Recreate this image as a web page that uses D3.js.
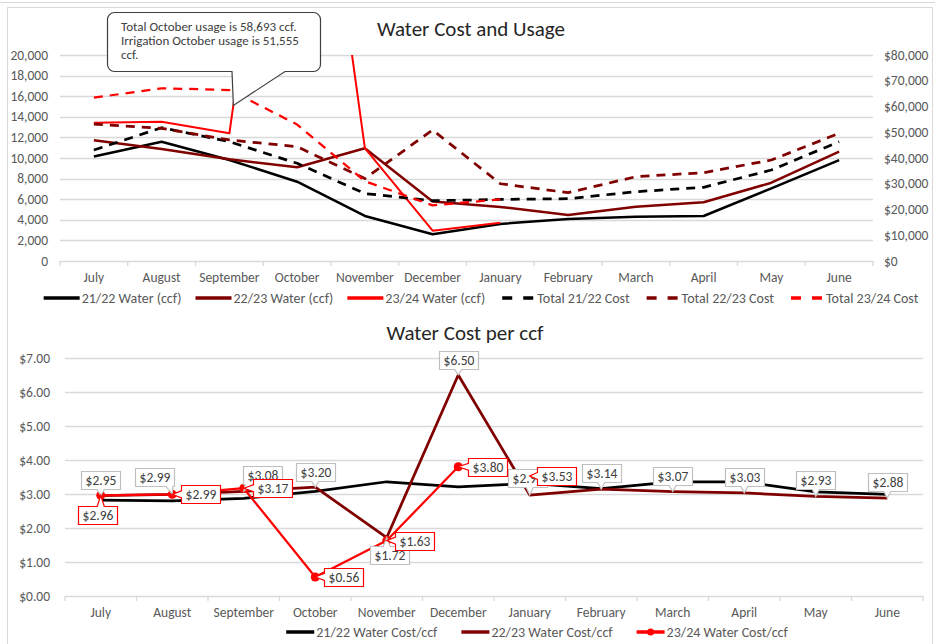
<!DOCTYPE html>
<html>
<head>
<meta charset="utf-8">
<script src="https://cdn.jsdelivr.net/npm/d3@7"></script>
<style>
  body { margin: 0; background: #fff; }
  svg { font-family: Calibri, Carlito, Lato, sans-serif; }
</style>
</head>
<body>
<div id="container"></div>
<script>
/* DATA */
const months = ["July", "August", "September", "October", "November", "December",
  "January", "February", "March", "April", "May", "June"];

// usage in ccf (left axis)
const water2122 = [10150, 11580, 9800, 7700, 4370, 2590, 3600, 4080, 4300, 4370, 7060, 9800];
const water2223 = [11720, 10870, 9870, 9100, 10940, 5780, 5250, 4470, 5270, 5700, 7600, 10610];
const water2324 = [13430, 13530, 12400, 58693, 10950, 2940, 3720];

// total cost in $ (right axis)
const cost2122 = [43100, 51770, 46330, 37940, 26200, 23400, 23900, 24200, 26900, 28620, 35340, 46330];
const cost2223 = [53200, 51530, 47000, 44400, 32000, 50870, 30000, 26540, 32740, 34300, 39220, 49590];
const cost2324 = [63420, 67070, 66400, 53000, 31000, 21600, 23950];

// cost per ccf
const cpc2122 = [2.82, 2.80, 2.87, 3.08, 3.36, 3.21, 3.31, 3.16, 3.36, 3.36, 3.06, 2.99];
const cpc2223 = [2.95, 2.99, 3.08, 3.20, 1.72, 6.50, 2.97, 3.14, 3.07, 3.03, 2.93, 2.88];
const cpc2324 = [2.96, 2.99, 3.17, 0.56, 1.63, 3.80, 3.53];

const leftTicks = d3.range(0, 20001, 2000);
const rightTicks = d3.range(0, 80001, 10000);
const cpcTicks = d3.range(0, 7.01, 1);

const calloutLines = ["Total October usage is 58,693 ccf.",
  "Irrigation October usage is 51,555", "ccf."];

/* CONSTANTS AND GLOBALS */
const width = 935;
const height = 644;
const gridColor = "#d9d9d9";
const textColor = "#595959";
const darkRed = "#800000";
const red = "#ff0000";
const axisFont = "13.5px";

// data label offsets (box centre relative to point)
const labelOff2223 = [[0,-16],[-18,-17],[19,-16],[0,-15],[3,17],[0,-15],[-2,-17],[0,-16],[0,-16],[0,-16],[0,-16],[0,-16]];
const labelOff2324 = [[-3,20],[28,0],[29,0],[28,0],[28,0],[29,0],[27,0]];

const svg = d3.select("#container")
  .append("svg")
  .attr("width", width)
  .attr("height", height);

// frames
svg.append("line")
  .attr("x1", 0).attr("x2", width).attr("y1", 2.5).attr("y2", 2.5)
  .attr("stroke", gridColor);
svg.append("rect")
  .attr("x", 7.5).attr("y", 7.5)
  .attr("width", 925).attr("height", 660)
  .attr("fill", "none")
  .attr("stroke", gridColor);

/* TOP CHART */
const topBox = {left: 60, right: 873, top: 55, bottom: 261};

const xTop = d3.scaleBand()
  .domain(months)
  .range([topBox.left, topBox.right]);
const xcTop = m => xTop(m) + xTop.bandwidth() / 2;

const yLeft = d3.scaleLinear()
  .domain([0, 20000])
  .range([topBox.bottom, topBox.top]);

const yRight = d3.scaleLinear()
  .domain([0, 80000])
  .range([topBox.bottom, topBox.top]);

// gridlines
svg.append("g")
  .selectAll("line")
  .data(leftTicks)
  .join("line")
  .attr("x1", topBox.left).attr("x2", topBox.right)
  .attr("y1", d => Math.round(yLeft(d)) + 0.5)
  .attr("y2", d => Math.round(yLeft(d)) + 0.5)
  .attr("stroke", gridColor)
  .attr("stroke-width", 1.3);

// x ticks at band edges
svg.append("g")
  .selectAll("line")
  .data(d3.range(months.length + 1))
  .join("line")
  .attr("x1", i => topBox.left + i * xTop.step())
  .attr("x2", i => topBox.left + i * xTop.step())
  .attr("y1", topBox.bottom).attr("y2", topBox.bottom + 5)
  .attr("stroke", gridColor)
  .attr("stroke-width", 1.3);

svg.append("g")
  .selectAll("text")
  .data(months)
  .join("text")
  .attr("x", d => xcTop(d))
  .attr("y", 281.5)
  .attr("text-anchor", "middle")
  .attr("fill", textColor)
  .style("font-size", axisFont)
  .text(d => d);

svg.append("g")
  .selectAll("text")
  .data(leftTicks)
  .join("text")
  .attr("x", 48)
  .attr("y", d => yLeft(d) + 4.5)
  .attr("text-anchor", "end")
  .attr("fill", textColor)
  .style("font-size", axisFont)
  .text(d => d3.format(",")(d));

svg.append("g")
  .selectAll("text")
  .data(rightTicks)
  .join("text")
  .attr("x", 884)
  .attr("y", d => yRight(d) + 4.5)
  .attr("fill", textColor)
  .style("font-size", axisFont)
  .text(d => "$" + d3.format(",")(d));

svg.append("text")
  .attr("x", 471)
  .attr("y", 36)
  .attr("text-anchor", "middle")
  .attr("fill", "#262626")
  .style("font-size", "21px")
  .text("Water Cost and Usage");

svg.append("clipPath")
  .attr("id", "topClip")
  .append("rect")
  .attr("x", topBox.left - 5).attr("y", topBox.top)
  .attr("width", topBox.right - topBox.left + 10)
  .attr("height", topBox.bottom - topBox.top + 5);

const plotTop = svg.append("g").attr("clip-path", "url(#topClip)");

const topSeries = [
  {name: "21/22 Water (ccf)", values: water2122, y: yLeft, color: "#000", dash: null, w: 2.5},
  {name: "22/23 Water (ccf)", values: water2223, y: yLeft, color: darkRed, dash: null, w: 2.5},
  {name: "23/24 Water (ccf)", values: water2324, y: yLeft, color: red, dash: null, w: 2},
  {name: "Total 21/22 Cost", values: cost2122, y: yRight, color: "#000", dash: "9,7", w: 2.75},
  {name: "Total 22/23 Cost", values: cost2223, y: yRight, color: darkRed, dash: "9,7", w: 2.75},
  {name: "Total 23/24 Cost", values: cost2324, y: yRight, color: red, dash: "9,7", w: 2.25}
];

topSeries.forEach(s => {
  const lineGen = d3.line()
    .x((d, i) => xcTop(months[i]))
    .y(d => s.y(d));
  plotTop.append("path")
    .datum(s.values)
    .attr("fill", "none")
    .attr("stroke", s.color)
    .attr("stroke-width", s.w)
    .attr("stroke-dasharray", s.dash)
    .attr("stroke-linejoin", "round")
    .attr("d", lineGen);
});

// callout box
const tipX = xcTop("September") + 4;
const tipY = yLeft(15100);
const cb = {x: 107.5, y: 12.5, w: 213, h: 59, r: 7};
const cpath = d3.path();
cpath.moveTo(cb.x + cb.r, cb.y);
cpath.lineTo(cb.x + cb.w - cb.r, cb.y);
cpath.arcTo(cb.x + cb.w, cb.y, cb.x + cb.w, cb.y + cb.r, cb.r);
cpath.lineTo(cb.x + cb.w, cb.y + cb.h - cb.r);
cpath.arcTo(cb.x + cb.w, cb.y + cb.h, cb.x + cb.w - cb.r, cb.y + cb.h, cb.r);
cpath.lineTo(285, cb.y + cb.h);
cpath.lineTo(tipX, tipY);
cpath.lineTo(232, cb.y + cb.h);
cpath.lineTo(cb.x + cb.r, cb.y + cb.h);
cpath.arcTo(cb.x, cb.y + cb.h, cb.x, cb.y + cb.h - cb.r, cb.r);
cpath.lineTo(cb.x, cb.y + cb.r);
cpath.arcTo(cb.x, cb.y, cb.x + cb.r, cb.y, cb.r);
cpath.closePath();
svg.append("path")
  .attr("d", cpath.toString())
  .attr("fill", "#fff")
  .attr("stroke", "#404040")
  .attr("stroke-width", 1.2);

svg.append("g")
  .selectAll("text")
  .data(calloutLines)
  .join("text")
  .attr("x", 121)
  .attr("y", (d, i) => 30.5 + i * 14.3)
  .attr("fill", "#404040")
  .style("font-size", "13px")
  .text(d => d);

// legend
function drawLegend(items, cy, centre, sampleW, gap) {
  const g = svg.append("g");
  let x = 0;
  items.forEach(s => {
    g.append("line")
      .attr("x1", x).attr("x2", x + sampleW)
      .attr("y1", cy).attr("y2", cy)
      .attr("stroke", s.color)
      .attr("stroke-width", 3.5)
      .attr("stroke-dasharray", s.dash ? "10,11" : null)
      .attr("stroke-dashoffset", s.dash ? -3 : null);
    if (s.marker) {
      g.append("circle")
        .attr("cx", x + sampleW / 2).attr("cy", cy).attr("r", 3.5)
        .attr("fill", s.color);
    }
    const t = g.append("text")
      .attr("x", x + sampleW + 2)
      .attr("y", cy + 4.5)
      .attr("fill", textColor)
      .style("font-size", "14px")
      .text(s.name);
    x += sampleW + 2 + t.node().getComputedTextLength() + gap;
  });
  x -= gap;
  g.attr("transform", `translate(${centre - x / 2},0)`);
}

drawLegend(topSeries, 298, 481, 36, 14);

/* BOTTOM CHART */
const botBox = {left: 65, right: 923, top: 358, bottom: 596};

const xBot = d3.scaleBand()
  .domain(months)
  .range([botBox.left, botBox.right]);
const xcBot = m => xBot(m) + xBot.bandwidth() / 2;

const yBot = d3.scaleLinear()
  .domain([0, 7])
  .range([botBox.bottom, botBox.top]);

svg.append("g")
  .selectAll("line")
  .data(cpcTicks)
  .join("line")
  .attr("x1", botBox.left).attr("x2", botBox.right)
  .attr("y1", d => Math.round(yBot(d)) + 0.5)
  .attr("y2", d => Math.round(yBot(d)) + 0.5)
  .attr("stroke", gridColor)
  .attr("stroke-width", 1.3);

svg.append("g")
  .selectAll("line")
  .data(d3.range(months.length + 1))
  .join("line")
  .attr("x1", i => botBox.left + i * xBot.step())
  .attr("x2", i => botBox.left + i * xBot.step())
  .attr("y1", botBox.bottom).attr("y2", botBox.bottom + 5)
  .attr("stroke", gridColor)
  .attr("stroke-width", 1.3);

svg.append("g")
  .selectAll("text")
  .data(months)
  .join("text")
  .attr("x", d => xcBot(d))
  .attr("y", 616.5)
  .attr("text-anchor", "middle")
  .attr("fill", textColor)
  .style("font-size", axisFont)
  .text(d => d);

svg.append("g")
  .selectAll("text")
  .data(cpcTicks)
  .join("text")
  .attr("x", 50)
  .attr("y", d => yBot(d) + 4.5)
  .attr("text-anchor", "end")
  .attr("fill", textColor)
  .style("font-size", axisFont)
  .text(d => "$" + d3.format(".2f")(d));

svg.append("text")
  .attr("x", 465)
  .attr("y", 340)
  .attr("text-anchor", "middle")
  .attr("fill", "#262626")
  .style("font-size", "21px")
  .text("Water Cost per ccf");

const botSeries = [
  {name: "21/22 Water Cost/ccf", values: cpc2122, color: "#000"},
  {name: "22/23 Water Cost/ccf", values: cpc2223, color: darkRed},
  {name: "23/24 Water Cost/ccf", values: cpc2324, color: red, marker: true}
];

botSeries.forEach(s => {
  const lineGen = d3.line()
    .x((d, i) => xcBot(months[i]))
    .y(d => yBot(d));
  svg.append("path")
    .datum(s.values)
    .attr("fill", "none")
    .attr("stroke", s.color)
    .attr("stroke-width", s.marker ? 2.25 : 2.75)
    .attr("stroke-linejoin", "round")
    .attr("d", lineGen);
  if (s.marker) {
    svg.append("g")
      .selectAll("circle")
      .data(s.values)
      .join("circle")
      .attr("cx", (d, i) => xcBot(months[i]))
      .attr("cy", d => yBot(d))
      .attr("r", 4.5)
      .attr("fill", s.color);
  }
});

// data callouts
function labelPath(bx, by, w, h, px, py) {
  const b = 3.5;
  const p = d3.path();
  p.moveTo(bx, by);
  if (py < by) {
    const c = Math.max(bx + 5, Math.min(bx + w - 5, px));
    p.lineTo(c - b, by); p.lineTo(px, py); p.lineTo(c + b, by);
  }
  p.lineTo(bx + w, by);
  p.lineTo(bx + w, by + h);
  if (py > by + h) {
    const c = Math.max(bx + 5, Math.min(bx + w - 5, px));
    p.lineTo(c + b, by + h); p.lineTo(px, py); p.lineTo(c - b, by + h);
  }
  p.lineTo(bx, by + h);
  if (px < bx && py >= by && py <= by + h) {
    const c = Math.max(by + 4, Math.min(by + h - 4, py));
    p.lineTo(bx, c + b); p.lineTo(px, py); p.lineTo(bx, c - b);
  }
  p.closePath();
  return p.toString();
}

function drawLabels(values, offsets, stroke) {
  const w = 39, h = 18;
  values.forEach((v, i) => {
    const px = xcBot(months[i]), py = yBot(v);
    const cx = px + offsets[i][0], cy = py + offsets[i][1];
    const bx = Math.round(cx - w / 2) + 0.5, by = Math.round(cy - h / 2) + 0.5;
    svg.append("path")
      .attr("d", labelPath(bx, by, w, h, px, py))
      .attr("fill", "#fff")
      .attr("stroke", stroke)
      .attr("stroke-width", 1.2);
    svg.append("text")
      .attr("x", bx + w / 2)
      .attr("y", by + h / 2 + 4.8)
      .attr("text-anchor", "middle")
      .attr("fill", "#404040")
      .style("font-size", "13.5px")
      .text("$" + d3.format(".2f")(v));
  });
}

drawLabels(cpc2223, labelOff2223, "#bfbfbf");
drawLabels(cpc2324, labelOff2324, red);

drawLegend(botSeries, 632, 537, 28, 24);
</script>
</body>
</html>
